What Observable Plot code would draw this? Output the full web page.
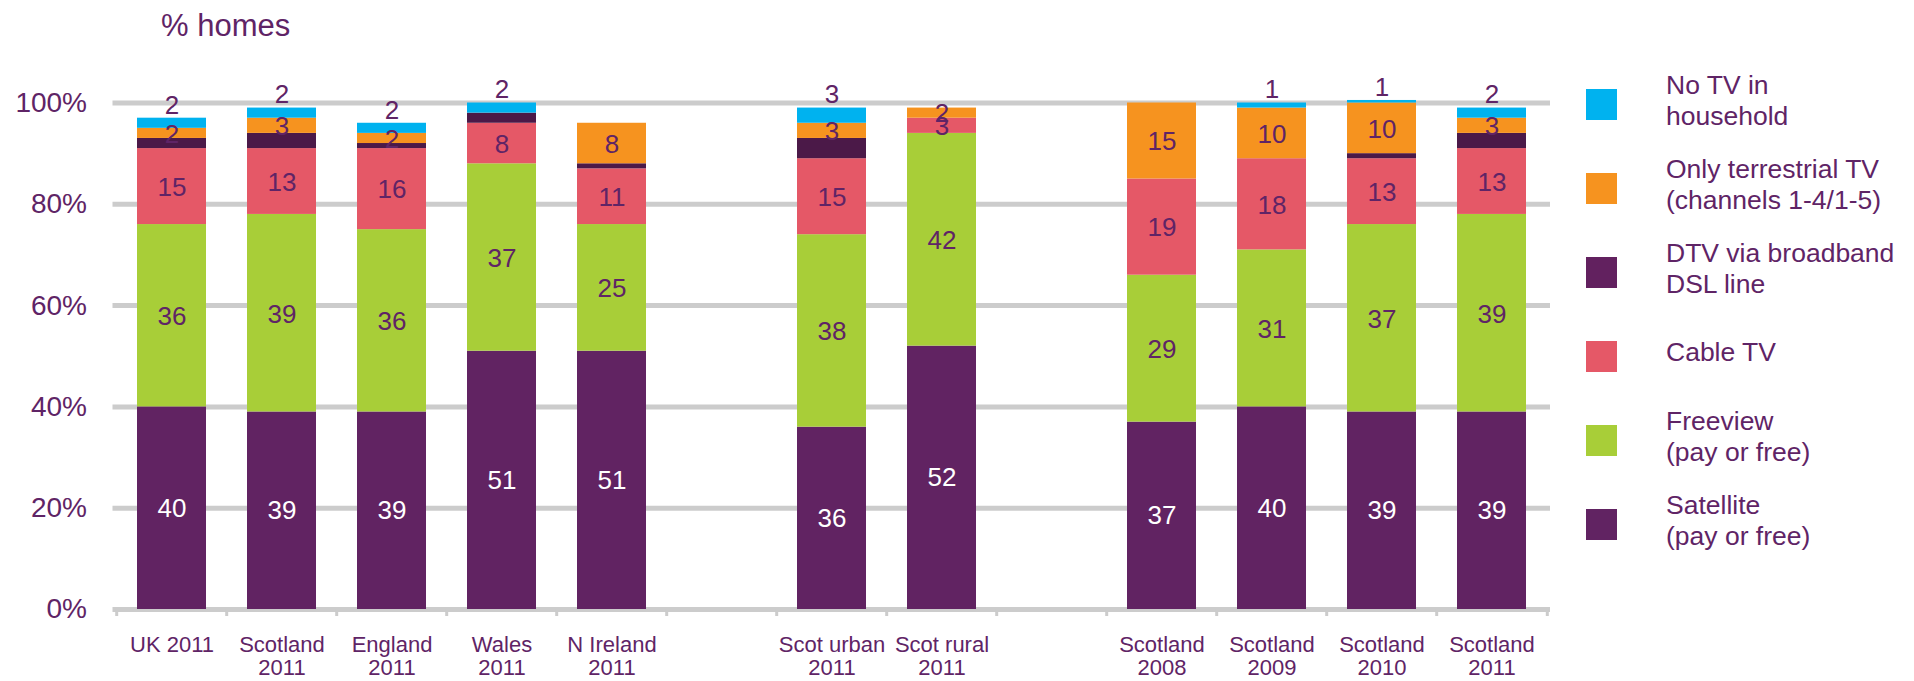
<!DOCTYPE html>
<html>
<head>
<meta charset="utf-8">
<script src="https://cdn.jsdelivr.net/npm/d3@7"></script>
<script src="https://cdn.jsdelivr.net/npm/@observablehq/plot@0.6"></script>
<style>
html, body { margin: 0; padding: 0; background: #ffffff; }
#wrap { position: relative; width: 1914px; height: 681px; overflow: hidden;
  font-family: "Liberation Sans", Arial, sans-serif; color: #5F2466; }
#wrap svg { position: absolute; left: 0; top: 0; }
#title { position: absolute; left: 161px; top: 10px; font-size: 31px; line-height: 1; }
.item { position: absolute; left: 1586px; height: 80px; display: flex; align-items: center; }
.sw { width: 31px; height: 31px; flex: none; }
.lt { margin-left: 49px; font-size: 26.5px; line-height: 31.5px; white-space: pre; position: relative; top: -3px; }
</style>
</head>
<body>
<div id="wrap"></div>
<script>
// ---------- data ----------
const categories = ["UK 2011", "Scotland\n2011", "England\n2011", "Wales\n2011", "N Ireland\n2011", "",
  "Scot urban\n2011", "Scot rural\n2011", "", "Scotland\n2008", "Scotland\n2009", "Scotland\n2010", "Scotland\n2011"];

const seriesNames = ["Satellite", "Freeview", "Cable TV", "DTV via broadband", "Only terrestrial TV", "No TV in household"];
const legendLabels = ["Satellite\n(pay or free)", "Freeview\n(pay or free)", "Cable TV", "DTV via broadband\nDSL line",
  "Only terrestrial TV\n(channels 1-4/1-5)", "No TV in\nhousehold"];

const satellite   = [40, 39, 39, 51, 51, null, 36, 52, null, 37, 40, 39, 39];
const freeview    = [36, 39, 36, 37, 25, null, 38, 42, null, 29, 31, 37, 39];
const cable       = [15, 13, 16,  8, 11, null, 15,  3, null, 19, 18, 13, 13];
const dtv         = [ 2,  3,  1,  2,  1, null,  4,  0, null,  0,  0,  1,  3];
const terrestrial = [ 2,  3,  2,  0,  8, null,  3,  2, null, 15, 10, 10,  3];
const noTV        = [ 2,  2,  2,  2,  0, null,  3,  0, null,  0,  1, 0.5, 2];

const yTicks = [0, 20, 40, 60, 80, 100];

// ---------- styling ----------
const seriesColors = ["#612362", "#A8CE38", "#E55867", "#4B1948", "#F6931F", "#00B2EF"];
const legendColors = ["#612362", "#A8CE38", "#E55867", "#62215F", "#F6931F", "#00B2EF"];
const purple = "#5F2466";
const grid = "#CCCCCC";

// ---------- table ----------
const ids = categories.map((c, i) => "c" + i);
const seriesValues = [satellite, freeview, cable, dtv, terrestrial, noTV];
const rows = [];
ids.forEach((id, i) => {
  seriesValues.forEach((vals, s) => {
    if (vals[i] != null) rows.push({id, series: seriesNames[s], value: vals[i]});
  });
});
const fmt = v => String(Math.round(v));

// ---------- layout ----------
const W = 1914, H = 681, mL = 112.5, mR = 364, mT = 102.5, mB = 72;
const step = (W - mL - mR) / ids.length;

const chart = Plot.plot({
  width: W, height: H,
  marginLeft: mL, marginRight: mR, marginTop: mT, marginBottom: mB,
  style: {fontFamily: "'Liberation Sans', Arial, sans-serif", fontSize: "28px", color: purple, background: "transparent", overflow: "visible"},
  x: {domain: ids, paddingInner: 0.373, paddingOuter: 0.1865, axis: null},
  y: {domain: [0, 100], ticks: yTicks, tickFormat: d => d + "%", tickSize: 0, tickPadding: 26, label: null},
  color: {domain: seriesNames, range: seriesColors},
  marks: [
    Plot.ruleY(yTicks, {stroke: grid, strokeWidth: 5}),
    Plot.ruleX(ids, {x: d => d, dx: -step / 2, y1: 0, y2: 0, insetBottom: -7, stroke: grid, strokeWidth: 3}),
    Plot.ruleX(ids.slice(-1), {x: d => d, dx: step / 2, y1: 0, y2: 0, insetBottom: -7, stroke: grid, strokeWidth: 3}),
    Plot.barY(rows, {x: "id", y: "value", fill: "series"}),
    Plot.text(rows, Plot.stackY({x: "id", y: "value", z: "series",
      text: d => (d.series === "Satellite" ? fmt(d.value) : null),
      fill: "white", fontSize: 26})),
    Plot.text(rows, Plot.stackY({x: "id", y: "value", z: "series",
      text: d => ((d.series === "Freeview" || d.series === "Cable TV" || d.series === "Only terrestrial TV") && d.value > 0 ? fmt(d.value) : null),
      fill: purple, fontSize: 26, dy: 1})),
    Plot.text(rows, Plot.stackY2({x: "id", y: "value", z: "series",
      text: d => (d.series === "No TV in household" && d.value > 0 ? fmt(d.value) : null),
      fill: purple, fontSize: 26, dy: -13})),
    Plot.text(ids, {x: d => d, text: (d, i) => categories[i], frameAnchor: "bottom", lineAnchor: "top",
      dy: 25.5, fontSize: 22, lineHeight: 1.07, fill: purple})
  ]
});

const wrap = document.getElementById("wrap");
wrap.appendChild(chart);

const title = document.createElement("div");
title.id = "title";
title.textContent = "% homes";
wrap.appendChild(title);

// legend, top to bottom = reverse stacking order
const legendTop = 104, legendGap = 84;
for (let k = 0; k < seriesNames.length; k++) {
  const s = seriesNames.length - 1 - k;
  const item = document.createElement("div");
  item.className = "item";
  item.style.top = (legendTop + k * legendGap - 40) + "px";
  const sw = document.createElement("div");
  sw.className = "sw";
  sw.style.background = legendColors[s];
  const lt = document.createElement("div");
  lt.className = "lt";
  lt.textContent = legendLabels[s];
  item.appendChild(sw);
  item.appendChild(lt);
  wrap.appendChild(item);
}
</script>
</body>
</html>
